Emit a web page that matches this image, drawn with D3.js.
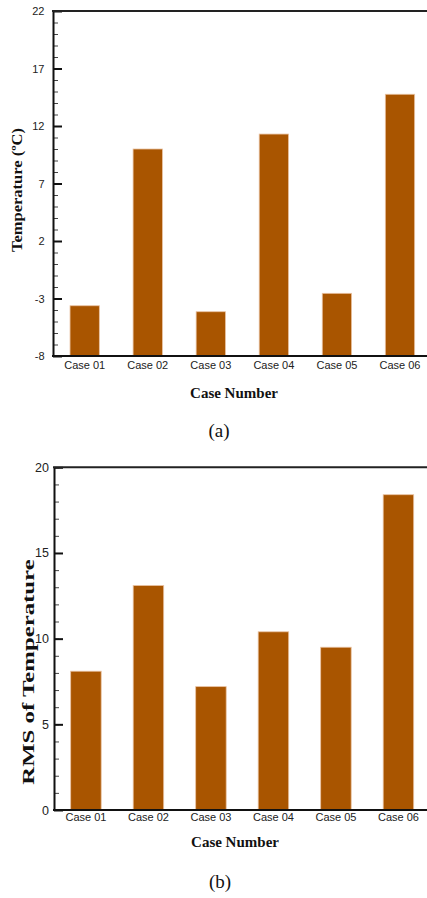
<!DOCTYPE html>
<html>
<head>
<meta charset="utf-8">
<script src="https://cdn.jsdelivr.net/npm/d3@7"></script>
<style>
  html, body { margin: 0; padding: 0; background: #ffffff; }
  svg { display: block; }
</style>
</head>
<body>
<script>
// ---- data ----
const categories = ["Case 01", "Case 02", "Case 03", "Case 04", "Case 05", "Case 06"];
const tempValues = [-3.63, 10.0, -4.15, 11.3, -2.55, 14.76];
const rmsValues = [8.1, 13.1, 7.2, 10.4, 9.5, 18.4];
const tempTicks = [-8, -3, 2, 7, 12, 17, 22];
const tempMinorTicks = d3.range(-8, 23, 1);
const rmsTicks = [0, 5, 10, 15, 20];
const rmsMinorTicks = d3.range(0, 21, 1);

const W = 427, H = 898;
const barColor = "#a95500";
const svg = d3.select("body").append("svg").attr("width", W).attr("height", H);

function drawPanel(cfg) {
  const g = svg.append("g");
  const x = d3.scaleBand().domain(categories)
    .range([cfg.x0, cfg.x0 + cfg.step * (categories.length - cfg.pi + 2 * cfg.po)])
    .paddingInner(cfg.pi).paddingOuter(cfg.po);
  const y = d3.scaleLinear().domain(cfg.domain).range([cfg.yBottom, cfg.yTop]);

  // bars
  g.append("g").selectAll("rect").data(cfg.values).join("rect")
    .attr("x", (d, i) => x(categories[i]))
    .attr("width", x.bandwidth())
    .attr("y", d => y(d))
    .attr("height", d => y(cfg.domain[0]) - y(d))
    .attr("fill", barColor)
    .attr("stroke", "#e9c2a2")
    .attr("stroke-width", 0.8);

  // minor ticks
  const minor = g.append("g").attr("transform", `translate(${cfg.x0},0)`)
    .call(d3.axisLeft(y).tickValues(cfg.minor).tickSize(-5).tickFormat(""));
  minor.select(".domain").remove();
  minor.selectAll(".tick line").attr("stroke", "#444").attr("stroke-width", 1);

  // major ticks + labels
  const major = g.append("g").attr("transform", `translate(${cfg.x0},0)`)
    .call(d3.axisLeft(y).tickValues(cfg.ticks).tickSize(-9).tickSizeOuter(0)
      .tickPadding(cfg.labelPad).tickFormat(d => String(d)));
  major.select(".domain").attr("stroke", "#111").attr("stroke-width", 2);
  major.selectAll(".tick line").attr("stroke", "#111").attr("stroke-width", 2);
  major.selectAll(".tick text").attr("font-family", "Liberation Sans, Arial, sans-serif")
    .attr("font-size", cfg.yTickFont).attr("fill", "#222");

  // x axis (labels only) + bottom line + top line
  const xa = g.append("g").attr("transform", `translate(0,${cfg.yBottom})`)
    .call(d3.axisBottom(x).tickSize(0).tickPadding(cfg.xLabelPad));
  xa.select(".domain").remove();
  xa.selectAll(".tick text").attr("font-family", "Liberation Sans, Arial, sans-serif")
    .attr("font-size", 11).attr("fill", "#222");
  g.append("line").attr("x1", cfg.x0 - 1).attr("x2", W)
    .attr("y1", cfg.yBottom).attr("y2", cfg.yBottom)
    .attr("stroke", "#111").attr("stroke-width", 2);
  g.append("line").attr("x1", cfg.x0 - 1).attr("x2", W)
    .attr("y1", cfg.yTop).attr("y2", cfg.yTop)
    .attr("stroke", "#222").attr("stroke-width", 2);

  // y title (stretched along its length like the reference)
  const yt = g.append("text")
    .attr("transform", `translate(${cfg.yTitleX},${cfg.yTitleY}) rotate(-90) scale(${cfg.yTitleStretch},1)`)
    .attr("text-anchor", "middle").attr("dy", "0.35em")
    .attr("font-family", "Liberation Serif, Times New Roman, serif")
    .attr("font-weight", "bold").attr("font-size", cfg.yTitleFont).attr("fill", "#111");
  cfg.yTitle(yt);

  // x title
  g.append("text").attr("x", cfg.xTitleX).attr("y", cfg.xTitleY)
    .attr("text-anchor", "middle").attr("dy", "0.35em")
    .attr("font-family", "Liberation Serif, Times New Roman, serif")
    .attr("font-weight", "bold").attr("font-size", 15).attr("fill", "#111")
    .text("Case Number");

  // caption
  g.append("text").attr("x", cfg.capX).attr("y", cfg.capY)
    .attr("text-anchor", "middle").attr("dy", "0.35em")
    .attr("font-family", "Liberation Serif, Times New Roman, serif")
    .attr("font-size", 19).attr("fill", "#111")
    .text(cfg.caption);
}

drawPanel({
  values: tempValues, domain: [-8, 22], ticks: tempTicks, minor: tempMinorTicks,
  x0: 53, step: 63.06, pi: 0.535, po: 0.27,
  yTop: 11, yBottom: 356, labelPad: 8.5, yTickFont: 11, xLabelPad: 5,
  yTitleX: 17, yTitleY: 190, yTitleFont: 15, yTitleStretch: 1.1,
  yTitle: t => { t.append("tspan").text("Temperature ("); t.append("tspan").text("º"); t.append("tspan").text("C)"); },
  xTitleX: 234, xTitleY: 393, capX: 219, capY: 430, caption: "(a)"
});

drawPanel({
  values: rmsValues, domain: [0, 20], ticks: rmsTicks, minor: rmsMinorTicks,
  x0: 54, step: 62.5, pi: 0.512, po: 0.267,
  yTop: 467.3, yBottom: 810, labelPad: 5, yTickFont: 12.5, xLabelPad: 3,
  yTitleX: 28, yTitleY: 672, yTitleFont: 16, yTitleStretch: 1.55,
  yTitle: t => t.text("RMS of Temperature"),
  xTitleX: 235, xTitleY: 842, capX: 220, capY: 881, caption: "(b)"
});
</script>
</body>
</html>
